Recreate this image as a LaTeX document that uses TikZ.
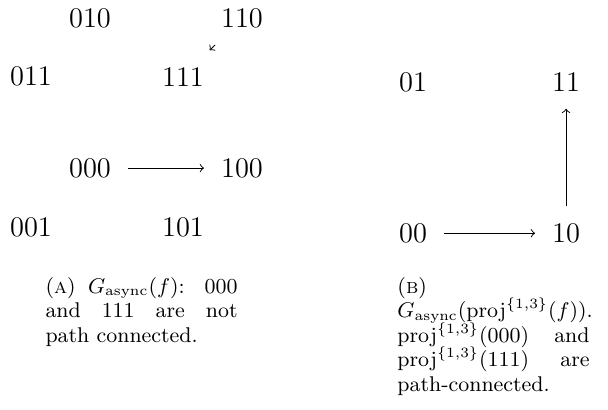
\documentclass[tikz,border=0pt]{standalone}
\usepackage{amsmath}
\begin{document}
\begin{tikzpicture}[vtx/.style={inner sep=7pt, font=\fontsize{12}{14}\selectfont},
  capt/.style={anchor=north west, inner sep=0pt, text width=2.85cm, align=justify,
    font=\fontsize{9}{10.3}\selectfont, execute at begin node={\lineskiplimit=-5pt\relax}}]
  \useasboundingbox (0,0) rectangle (9.02,6.07);
  % left cube
  \node[vtx] (v010) at (1.335,5.80) {010};
  \node[vtx] (v110) at (3.59,5.80) {110};
  \node[vtx] (v011) at (0.46,4.93) {011};
  \node[vtx] (v111) at (2.715,4.93) {111};
  \node[vtx] (v000) at (1.335,3.576) {000};
  \node[vtx] (v100) at (3.59,3.576) {100};
  \node[vtx] (v001) at (0.46,2.70) {001};
  \node[vtx] (v101) at (2.715,2.70) {101};
  \draw[->] (v000) -- (v100);
  \draw[->] (v110) -- (v111);
  \node[capt] (captA) at (0.668,1.96) {(\textsc{a}) $G_{\mathrm{async}}(f)$: 000 and 111 are not path connected.};
  % right square
  \node[vtx] (v01) at (6.128,4.85) {01};
  \node[vtx] (v11) at (8.398,4.85) {11};
  \node[vtx] (v00) at (6.128,2.61) {00};
  \node[vtx] (v10) at (8.398,2.61) {10};
  \draw[->] (v00) -- (v10);
  \draw[->] (v10) -- (v11);
  \node[capt] (captB) at (5.89,1.96) {(\textsc{b}) $G_{\mathrm{async}}(\mathrm{proj}^{\{1,3\}}(f))$. $\mathrm{proj}^{\{1,3\}}(000)$ and $\mathrm{proj}^{\{1,3\}}(111)$ are path-connected.};
\end{tikzpicture}
\end{document}
